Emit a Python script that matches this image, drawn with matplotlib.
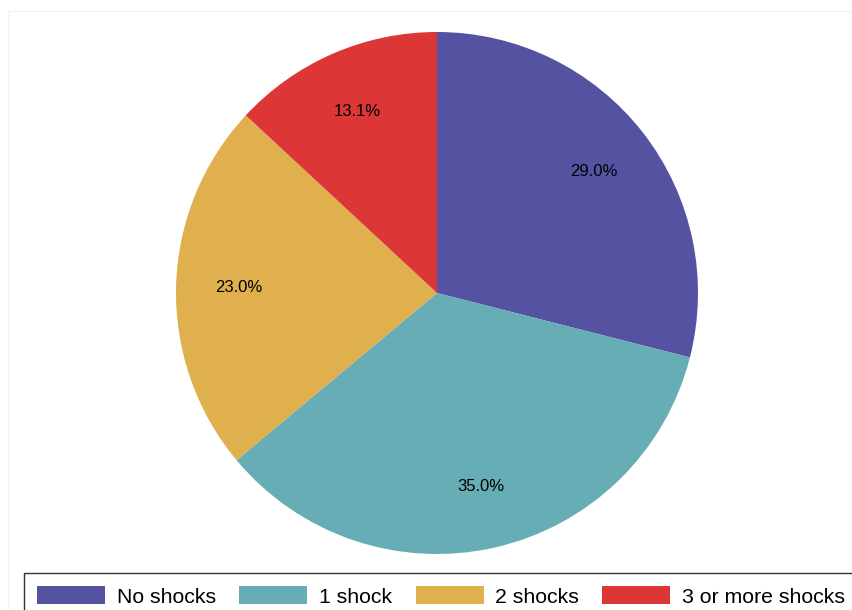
import matplotlib
matplotlib.use("Agg")
import matplotlib.pyplot as plt
from matplotlib.patches import Rectangle

categories = ["No shocks", "1 shock", "2 shocks", "3 or more shocks"]
values = [29.0, 35.0, 23.0, 13.1]
colors = ["#5552A2", "#67ADB5", "#E0B04E", "#DD3636"]

plt.rcParams['font.family'] = ['Liberation Sans', 'DejaVu Sans']

W, H = 852, 610
fig = plt.figure(figsize=(W / 100, H / 100), dpi=100)
fig.patch.set_facecolor("white")

# faint outer frame
fig.add_artist(Rectangle((8 / W, 0), (W - 8) / W, (H - 11) / H, transform=fig.transFigure,
                         fill=False, edgecolor="#F2F2F2", linewidth=0.8))

cx, cy, r = 437, 293, 261
ax = fig.add_axes([(cx - r) / W, (H - cy - r) / H, 2 * r / W, 2 * r / H])
wedges, texts, autotexts = ax.pie(values, colors=colors, startangle=90, counterclock=False,
                                  autopct=lambda p: "", pctdistance=0.76,
                                  wedgeprops=dict(linewidth=0))
for at, v in zip(autotexts, values):
    at.set_text(f"{v:.1f}%")
    at.set_fontsize(12)
    at.set_color("black")
ax.set_xlim(-1, 1)
ax.set_ylim(-1, 1)
ax.set_aspect("equal")
ax.axis("off")

leg = fig.legend(wedges, categories, loc="upper left",
                 bbox_to_anchor=(24 / W, (H - 573) / H), ncol=4, fontsize=15.3,
                 frameon=True, fancybox=False, edgecolor="black",
                 handlelength=3.2, handleheight=0.93, handletextpad=0.55,
                 columnspacing=1.1, borderpad=0.62, borderaxespad=0)
leg.get_frame().set_linewidth(1.0)

fig.savefig("out.png", dpi=100)
